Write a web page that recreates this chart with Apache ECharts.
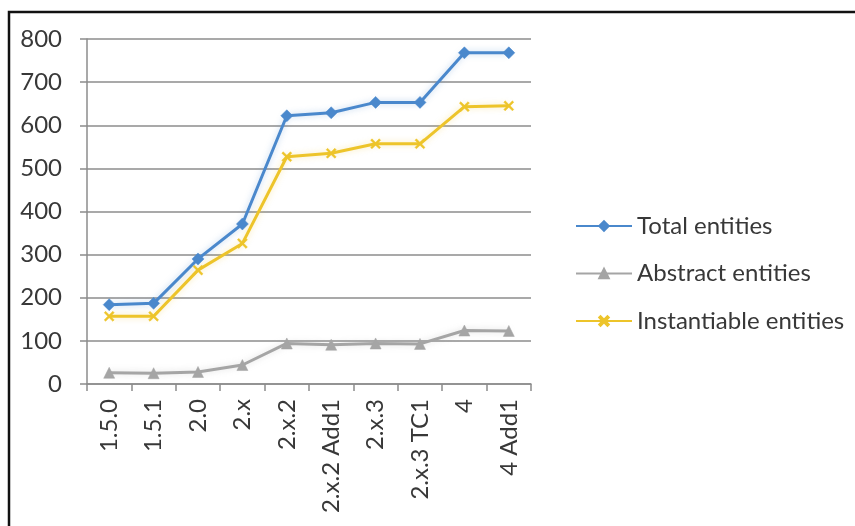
<!DOCTYPE html>
<html>
<head>
<meta charset="utf-8">
<script src="https://cdn.jsdelivr.net/npm/echarts@6/dist/echarts.min.js"></script>
<style>
html,body{margin:0;padding:0;background:#fff;}
#chart{width:855px;height:526px;}
</style>
</head>
<body>
<div id="chart"></div>
<script>
const categories = ['1.5.0','1.5.1','2.0','2.x','2.x.2','2.x.2 Add1','2.x.3','2.x.3 TC1','4','4 Add1'];
const totalEntities = [184,187,290,371,622,629,653,653,768,768];
const abstractEntities = [26,25,28,44,94,91,94,93,124,123];
const instantiableEntities = [157,157,264,326,527,535,557,557,643,645];
const yTicks = {min:0, max:800, interval:100};

const FONT = 'Lato';
const TXT = '#383838';
const crossPath = 'path://M0,1.4L1.4,0L5,3.6L8.6,0L10,1.4L6.4,5L10,8.6L8.6,10L5,6.4L1.4,10L0,8.6L3.6,5Z';

const chart = echarts.init(document.getElementById('chart'));
function lineSeries(name, data, color, symbol, size){
  return {
    name, type:'line', data, symbol, symbolSize:size,
    showSymbol:true,
    lineStyle:{color, width:3, shadowColor:echarts.color.modifyAlpha(color,0.35), shadowBlur:6},
    itemStyle:{color, borderColor:color, borderWidth:0.5},
    emphasis:{disabled:true},
    animation:false
  };
}
chart.setOption({
  animation:false,
  backgroundColor:'#fff',
  textStyle:{fontFamily:FONT},
  graphic:[{type:'rect', shape:{x:9, y:12, width:900, height:600}, style:{fill:'none', stroke:'#111', lineWidth:2.5}, silent:true}],
  grid:{left:87, right:324, top:39, bottom:142, containLabel:false},
  legend:{
    orient:'vertical', left:570, top:209,
    itemWidth:56, itemHeight:12, itemGap:23.5,
    textStyle:{fontFamily:FONT, fontSize:24, color:TXT, lineHeight:24},
    data:['Total entities','Abstract entities','Instantiable entities']
  },
  xAxis:{
    type:'category', data:categories, boundaryGap:true,
    axisLine:{lineStyle:{color:'#8c8c8c', width:1.5}},
    axisTick:{show:true, length:7, lineStyle:{color:'#8c8c8c', width:1.5}},
    axisLabel:{rotate:90, margin:15, fontFamily:FONT, fontSize:24, color:TXT, interval:0}
  },
  yAxis:{
    type:'value', min:yTicks.min, max:yTicks.max, interval:yTicks.interval,
    axisLine:{show:true, lineStyle:{color:'#8c8c8c', width:1.5}},
    axisTick:{show:true, length:7, lineStyle:{color:'#8c8c8c', width:1.5}},
    splitLine:{lineStyle:{color:'#8c8c8c', width:1.5}},
    axisLabel:{margin:25, fontFamily:FONT, fontSize:24, color:TXT}
  },
  series:[
    lineSeries('Total entities', totalEntities, '#4A88CC', 'diamond', 12),
    lineSeries('Abstract entities', abstractEntities, '#A5A5A5', 'triangle', 11),
    lineSeries('Instantiable entities', instantiableEntities, '#EDC42A', crossPath, 10)
  ]
});
</script>
</body>
</html>
